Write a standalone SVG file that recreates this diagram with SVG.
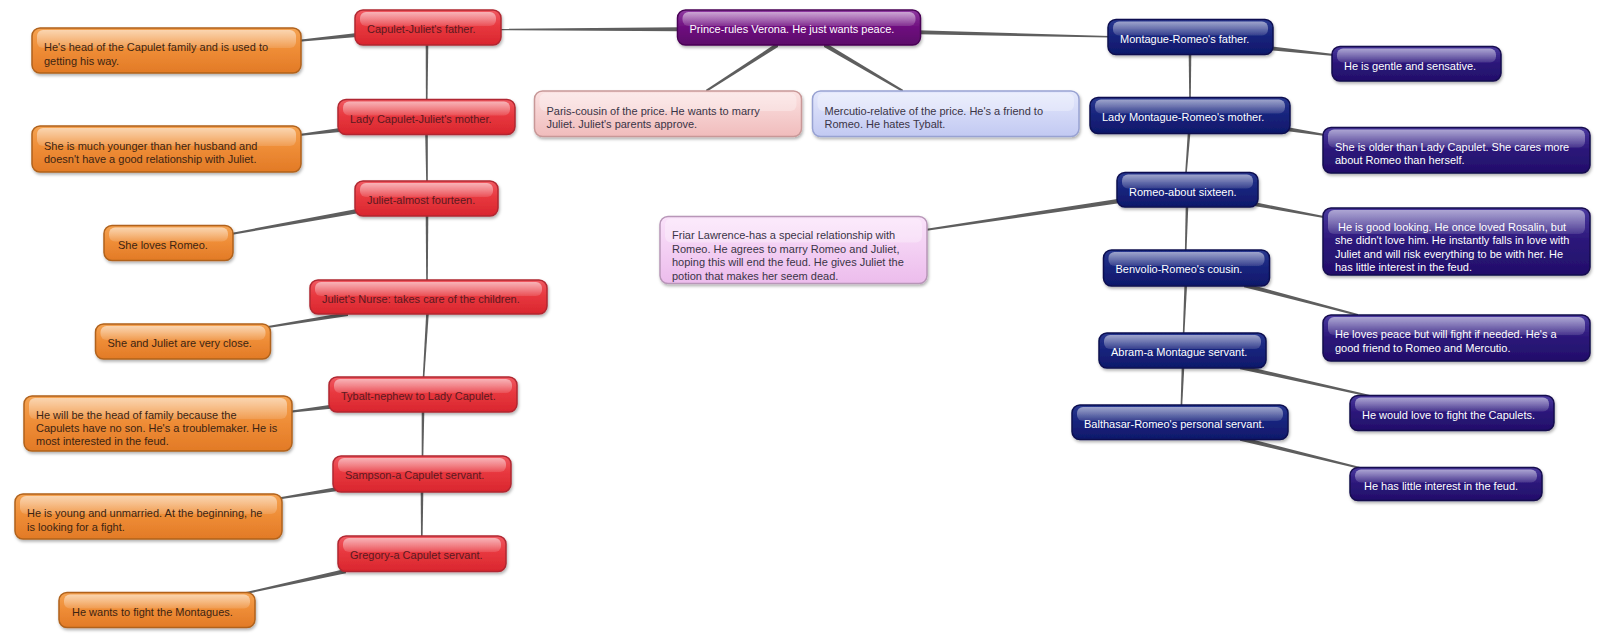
<svg xmlns="http://www.w3.org/2000/svg" width="1600" height="637" viewBox="0 0 1600 637">
<defs>
<linearGradient id="gRed" x1="0" y1="0" x2="0" y2="1"><stop offset="0" stop-color="#f05a62"/><stop offset="0.45" stop-color="#e8383f"/><stop offset="1" stop-color="#d9262e"/></linearGradient>
<linearGradient id="gOrange" x1="0" y1="0" x2="0" y2="1"><stop offset="0" stop-color="#f5a352"/><stop offset="0.5" stop-color="#ee8c36"/><stop offset="1" stop-color="#e27a26"/></linearGradient>
<linearGradient id="gNavy" x1="0" y1="0" x2="0" y2="1"><stop offset="0" stop-color="#2a3890"/><stop offset="0.5" stop-color="#17237c"/><stop offset="1" stop-color="#0f186a"/></linearGradient>
<linearGradient id="gIndigo" x1="0" y1="0" x2="0" y2="1"><stop offset="0" stop-color="#4a3aa0"/><stop offset="0.5" stop-color="#2b1679"/><stop offset="1" stop-color="#220f6a"/></linearGradient>
<linearGradient id="gPurple" x1="0" y1="0" x2="0" y2="1"><stop offset="0" stop-color="#903aa2"/><stop offset="0.5" stop-color="#6e0e7e"/><stop offset="1" stop-color="#5c0a6a"/></linearGradient>
<linearGradient id="gPink" x1="0" y1="0" x2="0" y2="1"><stop offset="0" stop-color="#fbe2e2"/><stop offset="1" stop-color="#f0bcbc"/></linearGradient>
<linearGradient id="gBlue" x1="0" y1="0" x2="0" y2="1"><stop offset="0" stop-color="#e4e8fc"/><stop offset="1" stop-color="#c2c9f2"/></linearGradient>
<linearGradient id="gLilac" x1="0" y1="0" x2="0" y2="1"><stop offset="0" stop-color="#fae2fa"/><stop offset="1" stop-color="#ecbcec"/></linearGradient>
<linearGradient id="gGloss" x1="0" y1="0" x2="0" y2="1"><stop offset="0" stop-color="#ffffff" stop-opacity="0.55"/><stop offset="1" stop-color="#ffffff" stop-opacity="0.12"/></linearGradient>
<filter id="sh" x="-10%" y="-30%" width="125%" height="170%"><feDropShadow dx="1" dy="2" stdDeviation="1.5" flood-color="#000" flood-opacity="0.3"/></filter>
</defs>
<style>
.body{stroke-width:1.5;filter:url(#sh)}
.gloss{fill:url(#gGloss)}
text{font-family:"Liberation Sans",Arial,sans-serif;font-size:11px}
.red .body{fill:url(#gRed);stroke:#b02830}
.red text{fill:#5a1a20}
.orange .body{fill:url(#gOrange);stroke:#b0621c}
.orange text{fill:#3c2412}
.navy .body{fill:url(#gNavy);stroke:#0a1050}
.navy text{fill:#ffffff}
.indigo .body{fill:url(#gIndigo);stroke:#160a4e}
.indigo text{fill:#ffffff}
.purple .body{fill:url(#gPurple);stroke:#4a0656}
.purple text{fill:#ffffff}
.pink .body{fill:url(#gPink);stroke:#c89898}
.blue .body{fill:url(#gBlue);stroke:#98a2d2}
.lilac .body{fill:url(#gLilac);stroke:#b896b8}
.pink text,.blue text,.lilac text{fill:#3a3446}
.pink .gloss,.blue .gloss,.lilac .gloss{fill:#ffffff;opacity:0.3}
#connectors polygon{fill:#5e5e5e}
</style>
<rect width="1600" height="637" fill="#ffffff"/>
<g id="connectors">
<polygon points="680,27.3 498,28.8 498,30.2 680,31.3"/>
<polygon points="918,30.3 1110,36 1110,37.4 918,34.3"/>
<polygon points="778,42.1 706,89.8 706,92.2 778,46.9"/>
<polygon points="824,42.1 903,89.8 903,92.2 824,46.9"/>
<polygon points="357,33 299,39.7 299,41.7 357,37"/>
<polygon points="425.7,44 428.3,44 427.5,101 425.9,101"/>
<polygon points="340,128 299,134 299,136 340,132"/>
<polygon points="425.2,134 427.8,134 427.8,182 426.2,182"/>
<polygon points="358,208.8 231,233 231,235 358,213.2"/>
<polygon points="425.7,215 428.3,215 427.8,281 426.2,281"/>
<polygon points="348,312 268,326 268,328 348,316"/>
<polygon points="426.2,313 428.8,313 424.3,378 422.7,378"/>
<polygon points="331,404.7 290,410.7 290,412.7 331,408.7"/>
<polygon points="421.7,412 424.3,412 423.3,457 421.7,457"/>
<polygon points="336,487.3 280,497.3 280,499.3 336,491.3"/>
<polygon points="420.7,492 423.3,492 422.6,537 421,537"/>
<polygon points="346,568.8 246,592 246,594 346,573.2"/>
<polygon points="1188.7,54 1191.3,54 1190.8,98 1189.2,98"/>
<polygon points="1270,46.3 1334,54 1334,56 1270,50.3"/>
<polygon points="1288,127.3 1325,134 1325,136 1288,131.3"/>
<polygon points="1187.7,134 1190.3,134 1186.8,173 1185.2,173"/>
<polygon points="1119,198.8 925,229 925,231 1119,203.2"/>
<polygon points="1254,202 1325,216.3 1325,218.3 1254,206"/>
<polygon points="1185.7,206 1188.3,206 1186.5,251 1184.9,251"/>
<polygon points="1244,282.8 1358,314 1358,316 1244,287.2"/>
<polygon points="1184.4,286 1187,286 1184.4,334 1182.8,334"/>
<polygon points="1240,364.8 1370,395 1370,397 1240,369.2"/>
<polygon points="1181.7,367 1184.3,367 1182.2,406 1180.6,406"/>
<polygon points="1240,436.3 1360,467 1360,469 1240,440.7"/>
</g>
<g id="capulet" class="red"><rect class="body" x="355" y="10" width="146" height="35" rx="8"/><rect class="gloss" x="360" y="12" width="136" height="14" rx="6"/><text x="367" y="33">Capulet-Juliet's father.</text></g>
<g id="ladyCapulet" class="red"><rect class="body" x="338" y="99.5" width="177" height="35" rx="8"/><rect class="gloss" x="343" y="101.5" width="167" height="14" rx="6"/><text x="350" y="122.5">Lady Capulet-Juliet's mother.</text></g>
<g id="juliet" class="red"><rect class="body" x="355" y="181" width="143" height="35" rx="8"/><rect class="gloss" x="360" y="183" width="133" height="14" rx="6"/><text x="367" y="204">Juliet-almost fourteen.</text></g>
<g id="nurse" class="red"><rect class="body" x="310" y="280" width="237" height="34" rx="8"/><rect class="gloss" x="315" y="282" width="227" height="14" rx="6"/><text x="322" y="302.5">Juliet's Nurse: takes care of the children.</text></g>
<g id="tybalt" class="red"><rect class="body" x="329" y="377" width="188" height="35" rx="8"/><rect class="gloss" x="334" y="379" width="178" height="14" rx="6"/><text x="341" y="400">Tybalt-nephew to Lady Capulet.</text></g>
<g id="sampson" class="red"><rect class="body" x="333" y="456" width="178" height="36" rx="8"/><rect class="gloss" x="338" y="458" width="168" height="14" rx="6"/><text x="345" y="479">Sampson-a Capulet servant.</text></g>
<g id="gregory" class="red"><rect class="body" x="338" y="536" width="168" height="35.5" rx="8"/><rect class="gloss" x="343" y="538" width="158" height="14" rx="6"/><text x="350" y="559">Gregory-a Capulet servant.</text></g>

<g id="capuletDesc" class="orange"><rect class="body" x="32" y="28" width="269" height="45" rx="8"/><rect class="gloss" x="37" y="30" width="259" height="18" rx="6"/><text x="44" y="51">He's head of the Capulet family and is used to</text><text x="44" y="64.5">getting his way.</text></g>
<g id="ladyCapuletDesc" class="orange"><rect class="body" x="32" y="126" width="269" height="46" rx="8"/><rect class="gloss" x="37" y="128" width="259" height="18" rx="6"/><text x="44" y="149.5">She is much younger than her husband and</text><text x="44" y="163">doesn't have a good relationship with Juliet.</text></g>
<g id="julietDesc" class="orange"><rect class="body" x="104" y="225.5" width="129" height="35" rx="8"/><rect class="gloss" x="109" y="227.5" width="119" height="14" rx="6"/><text x="118" y="248.5">She loves Romeo.</text></g>
<g id="nurseDesc" class="orange"><rect class="body" x="95.5" y="324" width="175" height="35" rx="8"/><rect class="gloss" x="100.5" y="326" width="165" height="14" rx="6"/><text x="107.5" y="347">She and Juliet are very close.</text></g>
<g id="tybaltDesc" class="orange"><rect class="body" x="24" y="396" width="268" height="55" rx="8"/><rect class="gloss" x="29" y="398" width="258" height="21" rx="6"/><text x="36" y="418.5">He will be the head of family because the</text><text x="36" y="432">Capulets have no son. He's a troublemaker. He is</text><text x="36" y="445.4">most interested in the feud.</text></g>
<g id="sampsonDesc" class="orange"><rect class="body" x="15" y="494" width="267" height="45" rx="8"/><rect class="gloss" x="20" y="496" width="257" height="18" rx="6"/><text x="27" y="517">He is young and unmarried. At the beginning, he</text><text x="27" y="530.5">is looking for a fight.</text></g>
<g id="gregoryDesc" class="orange"><rect class="body" x="59" y="592.5" width="196" height="35" rx="8"/><rect class="gloss" x="64" y="594.5" width="186" height="14" rx="6"/><text x="72" y="615.5">He wants to fight the Montagues.</text></g>

<g id="prince" class="purple"><rect class="body" x="677.5" y="10" width="243" height="35" rx="8"/><rect class="gloss" x="682.5" y="12" width="233" height="14" rx="6"/><text x="689.5" y="33">Prince-rules Verona. He just wants peace.</text></g>
<g id="paris" class="pink"><rect class="body" x="534.5" y="91" width="267" height="45.5" rx="8"/><rect class="gloss" x="539.5" y="93" width="257" height="18" rx="6"/><text x="546.5" y="114.5">Paris-cousin of the price. He wants to marry</text><text x="546.5" y="128">Juliet. Juliet's parents approve.</text></g>
<g id="mercutio" class="blue"><rect class="body" x="812.5" y="91" width="266.5" height="45.5" rx="8"/><rect class="gloss" x="817.5" y="93" width="256.5" height="18" rx="6"/><text x="824.5" y="114.5">Mercutio-relative of the price. He's a friend to</text><text x="824.5" y="128">Romeo. He hates Tybalt.</text></g>
<g id="friar" class="lilac"><rect class="body" x="660" y="216.5" width="267" height="67" rx="8"/><rect class="gloss" x="665" y="218.5" width="257" height="24" rx="6"/><text x="672" y="239">Friar Lawrence-has a special relationship with</text><text x="672" y="252.5">Romeo. He agrees to marry Romeo and Juliet,</text><text x="672" y="266">hoping this will end the feud. He gives Juliet the</text><text x="672" y="279.5">potion that makes her seem dead.</text></g>

<g id="montague" class="navy"><rect class="body" x="1108" y="19.5" width="165" height="35" rx="8"/><rect class="gloss" x="1113" y="21.5" width="155" height="14" rx="6"/><text x="1120" y="42.5">Montague-Romeo's father.</text></g>
<g id="ladyMontague" class="navy"><rect class="body" x="1090" y="97.5" width="200" height="36" rx="8"/><rect class="gloss" x="1095" y="99.5" width="190" height="14" rx="6"/><text x="1102" y="121">Lady Montague-Romeo's mother.</text></g>
<g id="romeo" class="navy"><rect class="body" x="1117" y="172.5" width="141" height="34.5" rx="8"/><rect class="gloss" x="1122" y="174.5" width="131" height="14" rx="6"/><text x="1129" y="195.5">Romeo-about sixteen.</text></g>
<g id="benvolio" class="navy"><rect class="body" x="1103.5" y="250" width="166" height="36" rx="8"/><rect class="gloss" x="1108.5" y="252" width="156" height="14" rx="6"/><text x="1115.5" y="273">Benvolio-Romeo's cousin.</text></g>
<g id="abram" class="navy"><rect class="body" x="1099" y="333" width="167" height="35" rx="8"/><rect class="gloss" x="1104" y="335" width="157" height="14" rx="6"/><text x="1111" y="356">Abram-a Montague servant.</text></g>
<g id="balthasar" class="navy"><rect class="body" x="1072" y="405" width="216" height="34.5" rx="8"/><rect class="gloss" x="1077" y="407" width="206" height="14" rx="6"/><text x="1084" y="428">Balthasar-Romeo's personal servant.</text></g>

<g id="montagueDesc" class="indigo"><rect class="body" x="1332" y="46.5" width="169" height="34.5" rx="8"/><rect class="gloss" x="1337" y="48.5" width="159" height="14" rx="6"/><text x="1344" y="69.5">He is gentle and sensative.</text></g>
<g id="ladyMontagueDesc" class="indigo"><rect class="body" x="1323" y="127.5" width="267" height="45.5" rx="8"/><rect class="gloss" x="1328" y="129.5" width="257" height="18" rx="6"/><text x="1335" y="150.5">She is older than Lady Capulet. She cares more</text><text x="1335" y="164">about Romeo than herself.</text></g>
<g id="romeoDesc" class="indigo"><rect class="body" x="1323" y="208" width="267" height="67" rx="8"/><rect class="gloss" x="1328" y="210" width="257" height="24" rx="6"/><text x="1338" y="230.5">He is good looking. He once loved Rosalin, but</text><text x="1335" y="244">she didn't love him. He instantly falls in love with</text><text x="1335" y="257.5">Juliet and will risk everything to be with her. He</text><text x="1335" y="271">has little interest in the feud.</text></g>
<g id="benvolioDesc" class="indigo"><rect class="body" x="1323" y="315" width="267" height="46" rx="8"/><rect class="gloss" x="1328" y="317" width="257" height="18" rx="6"/><text x="1335" y="338">He loves peace but will fight if needed. He's a</text><text x="1335" y="351.5">good friend to Romeo and Mercutio.</text></g>
<g id="abramDesc" class="indigo"><rect class="body" x="1350" y="395.5" width="204" height="35" rx="8"/><rect class="gloss" x="1355" y="397.5" width="194" height="14" rx="6"/><text x="1362" y="418.5">He would love to fight the Capulets.</text></g>
<g id="balthasarDesc" class="indigo"><rect class="body" x="1350" y="467.5" width="192" height="33" rx="8"/><rect class="gloss" x="1355" y="469.5" width="182" height="13" rx="6"/><text x="1364" y="489.5">He has little interest in the feud.</text></g>
</svg>
